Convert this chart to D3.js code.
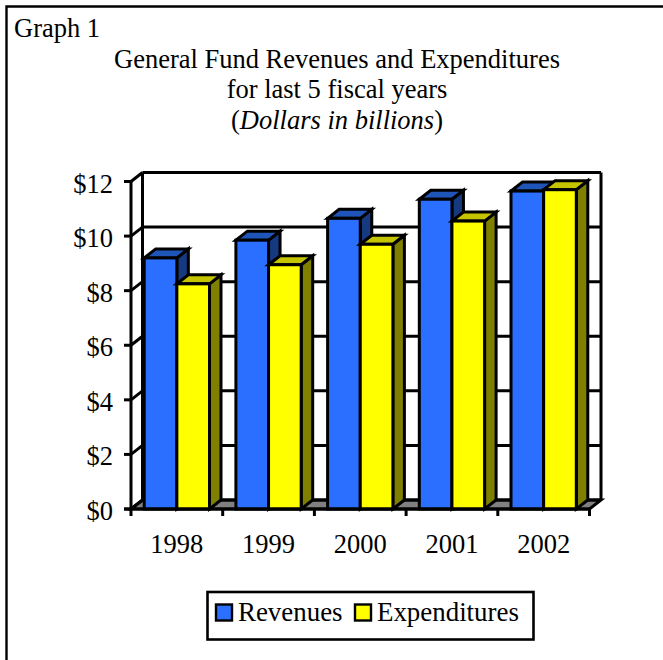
<!DOCTYPE html>
<html>
<head>
<meta charset="utf-8">
<script src="https://cdn.jsdelivr.net/npm/d3@7"></script>
<style>
html, body { margin: 0; padding: 0; background: #fff; }
svg { display: block; }
text { font-family: "Liberation Serif", "Times New Roman", serif; fill: #000; }
</style>
</head>
<body>
<svg id="chart" width="663" height="660"></svg>
<script>
const years = ['1998', '1999', '2000', '2001', '2002'];
const revenues = [9.2, 9.85, 10.65, 11.35, 11.65];
const expenditures = [8.25, 8.95, 9.7, 10.55, 11.7];
const yTicks = [0, 2, 4, 6, 8, 10, 12];
const seriesNames = ['Revenues', 'Expenditures'];
const titleLines = ['General Fund Revenues and Expenditures', 'for last 5 fiscal years'];

const svg = d3.select('#chart');
const depth = {x: 11.5, y: -9};
const lw = 3;

const x = d3.scaleBand().domain(years).range([131, 589.5]).paddingInner(0.288).paddingOuter(0.144);
const y = d3.scaleLinear().domain([0, 12]).range([509, 181.5]);

const seriesColors = [
    {front: '#2a6fff', top: '#1f55b8', side: '#153a80'},
    {front: '#ffff00', top: '#c4c400', side: '#808000'}
];

// outer frame
svg.append('path')
    .attr('d', 'M6.5,660V6.5H663')
    .attr('fill', 'none').attr('stroke', '#000').attr('stroke-width', 2.4);

svg.append('text').attr('x', 14).attr('y', 37).attr('font-size', 26.5).text('Graph 1');

svg.selectAll('.title')
    .data(titleLines)
    .join('text')
    .attr('class', 'title')
    .attr('x', 337)
    .attr('y', (d, i) => 68 + i * 30)
    .attr('text-anchor', 'middle')
    .attr('font-size', 26.5)
    .text(d => d);

const sub = svg.append('text').attr('x', 337).attr('y', 128.5).attr('text-anchor', 'middle').attr('font-size', 26.5);
sub.append('tspan').text('(');
sub.append('tspan').attr('font-style', 'italic').text('Dollars in billions');
sub.append('tspan').text(')');

const plot = svg.append('g').attr('fill', 'none').attr('stroke', '#000').attr('stroke-width', lw);

const x0 = x.range()[0], x1 = x.range()[1];
const backX0 = x0 + depth.x, backX1 = x1 + depth.x;

// floor
plot.append('path')
    .attr('d', `M${x0},${y(0)}L${backX0},${y(0) + depth.y}H${backX1}L${x1},${y(0)}Z`)
    .attr('fill', '#808080');

// back wall grid
plot.selectAll('.grid')
    .data(yTicks)
    .join('line')
    .attr('class', 'grid')
    .attr('x1', backX0).attr('x2', backX1)
    .attr('y1', d => y(d) + depth.y).attr('y2', d => y(d) + depth.y);

plot.append('line').attr('x1', backX0).attr('x2', backX0).attr('y1', y(12) + depth.y).attr('y2', y(0) + depth.y);
plot.append('line').attr('x1', backX1).attr('x2', backX1).attr('y1', y(12) + depth.y).attr('y2', y(0) + depth.y);

// left wall
plot.selectAll('.wall')
    .data(yTicks)
    .join('line')
    .attr('class', 'wall')
    .attr('x1', x0).attr('y1', d => y(d))
    .attr('x2', backX0).attr('y2', d => y(d) + depth.y);
plot.selectAll('.ytick')
    .data(yTicks)
    .join('line')
    .attr('class', 'ytick')
    .attr('x1', x0 - 7).attr('x2', x0)
    .attr('y1', d => y(d)).attr('y2', d => y(d));
plot.append('line').attr('x1', x0).attr('x2', x0).attr('y1', y(12)).attr('y2', y(0));

// drawn left to right so each bar covers the side of the previous one
const barW = x.bandwidth() / 2;
const bars = [];
years.forEach((yr, i) => {
    [revenues[i], expenditures[i]].forEach((v, s) => bars.push({yr, v, s}));
});
bars.forEach(d => {
    const c = seriesColors[d.s];
    const bx = x(d.yr) + d.s * barW;
    const by = y(d.v), b0 = y(0);
    const g = plot.append('g');
    g.append('path')
        .attr('d', `M${bx + barW},${by}l${depth.x},${depth.y}V${b0 + depth.y}L${bx + barW},${b0}Z`)
        .attr('fill', c.side);
    g.append('path')
        .attr('d', `M${bx},${by}l${depth.x},${depth.y}h${barW}l${-depth.x},${-depth.y}Z`)
        .attr('fill', c.top);
    g.append('rect')
        .attr('x', bx).attr('y', by).attr('width', barW).attr('height', b0 - by)
        .attr('fill', c.front);
});

// x axis line and ticks
plot.append('line').attr('x1', x0 - 7).attr('x2', x1).attr('y1', y(0)).attr('y2', y(0));
const step = x.step();
plot.selectAll('.xtick')
    .data(d3.range(years.length + 1))
    .join('line')
    .attr('class', 'xtick')
    .attr('x1', d => x0 + d * step).attr('x2', d => x0 + d * step)
    .attr('y1', y(0)).attr('y2', y(0) + 7);

svg.selectAll('.ylabel')
    .data(yTicks)
    .join('text')
    .attr('class', 'ylabel')
    .attr('x', 113)
    .attr('y', d => y(d) + 11)
    .attr('text-anchor', 'end')
    .attr('font-size', 26.5)
    .text(d => '$' + d);

svg.selectAll('.xlabel')
    .data(years)
    .join('text')
    .attr('class', 'xlabel')
    .attr('x', d => x(d) + x.bandwidth() / 2)
    .attr('y', 553)
    .attr('text-anchor', 'middle')
    .attr('font-size', 26.5)
    .text(d => d);

// legend
const legend = svg.append('g');
legend.append('rect')
    .attr('x', 207.5).attr('y', 592).attr('width', 326).attr('height', 47.5)
    .attr('fill', '#fff').attr('stroke', '#000').attr('stroke-width', 2.6);
const legendX = [216, 355];
seriesNames.forEach((name, i) => {
    legend.append('rect')
        .attr('x', legendX[i]).attr('y', 604.5).attr('width', 16).attr('height', 16)
        .attr('fill', seriesColors[i].front).attr('stroke', '#000').attr('stroke-width', 2.4);
    legend.append('text')
        .attr('x', legendX[i] + 22).attr('y', 621)
        .attr('font-size', 26.9)
        .text(name);
});
</script>
</body>
</html>
